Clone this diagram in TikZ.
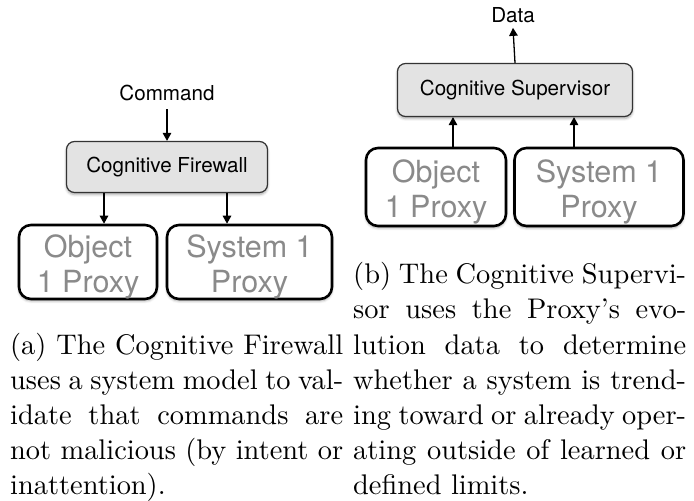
\documentclass[tikz,border=0pt]{standalone}
\usepackage{fontspec}
\setmainfont{lmroman10-regular}[Extension=.otf]
\newfontfamily\heros{TeX Gyre Heros}
\usetikzlibrary{arrows.meta,shadows.blur}
% strut that pushes the two-line proxy labels slightly below the box centre
\newcommand{\toppad}{\rule{0pt}{32pt}}
\begin{document}
\begin{tikzpicture}[x=1pt,y=1pt,
  softshadow/.style={blur shadow={shadow xshift=0pt,shadow yshift=-2pt,shadow blur radius=2.5pt,shadow opacity=35}},
  ctrl/.style={draw=black!80, line width=1.2pt, rounded corners=8pt, fill=black!11,
    font=\heros\fontsize{20.6}{24}\selectfont, inner sep=0pt, softshadow},
  proxy/.style={draw=black, line width=2.6pt, rounded corners=12pt, fill=white,
    font=\heros\fontsize{30.5}{35}\selectfont, text=black!46, align=center, inner sep=0pt, softshadow},
  lbl/.style={font=\heros\fontsize{20.6}{24}\selectfont, inner sep=0pt},
  arr/.style={line width=1.3pt, -{Triangle[length=8pt,width=8.5pt]}},
  captext/.style={font=\fontsize{28.4}{35.2}\selectfont, inner sep=0pt, anchor=base west}]
\useasboundingbox (0,0) rectangle (694,501);

% (a) firewall checking commands on the way down
\node[lbl] (cmd) at (167,408) {Command};
\node[ctrl, minimum width=201pt, minimum height=51pt] (fw) at (167,334) {Cognitive Firewall};
\node[proxy, minimum width=138pt, minimum height=74pt] (objA) at (88,239) {\toppad Object\\1 Proxy};
\node[proxy, minimum width=165pt, minimum height=74pt] (sysA) at (249.5,239) {\toppad System 1\\Proxy};
\draw[arr] ([yshift=-8pt]cmd.south) -- (fw.north);
\draw[arr] ([xshift=-63pt]fw.south) -- ([xshift=16pt]objA.north);
\draw[arr] ([xshift=60pt]fw.south) -- ([xshift=-22.5pt]sysA.north);

% (b) supervisor collecting proxy data on the way up
\node[lbl] (data) at (513,486) {Data};
\node[ctrl, minimum width=235pt, minimum height=53pt] (sup) at (515,411) {Cognitive Supervisor};
\node[proxy, minimum width=140pt, minimum height=78pt] (objB) at (436,314) {\toppad Object\\1 Proxy};
\node[proxy, minimum width=169pt, minimum height=78pt] (sysB) at (599,314) {\toppad System 1\\Proxy};
\draw[arr] (sup.north) -- ([yshift=-5pt]data.south);
\draw[arr] ([xshift=17pt]objB.north) -- ([xshift=-62pt]sup.south);
\draw[arr] ([xshift=-25pt]sysB.north) -- ([xshift=59pt]sup.south);

% sub-captions
\node[captext] (capA) at (10,146.8) {\vtop{\baselineskip=35.2pt\lineskiplimit=-100pt
  \hbox to 333pt{(a) The Cognitive Firewall}
  \hbox to 333pt{uses a system model to val-}
  \hbox to 333pt{idate that commands are}
  \hbox to 333pt{not malicious (by intent or}
  \hbox{inattention).}}};
\node[captext] (capB) at (353,217.2) {\vtop{\baselineskip=35.2pt\lineskiplimit=-100pt
  \hbox to 333pt{(b) The Cognitive Supervi-}
  \hbox to 333pt{sor uses the Proxy's evo-}
  \hbox to 333pt{lution data to determine}
  \hbox to 333pt{whether a system is trend-}
  \hbox to 333pt{ing toward or already oper-}
  \hbox to 333pt{ating outside of learned or}
  \hbox{defined limits.}}};
\end{tikzpicture}
\end{document}
